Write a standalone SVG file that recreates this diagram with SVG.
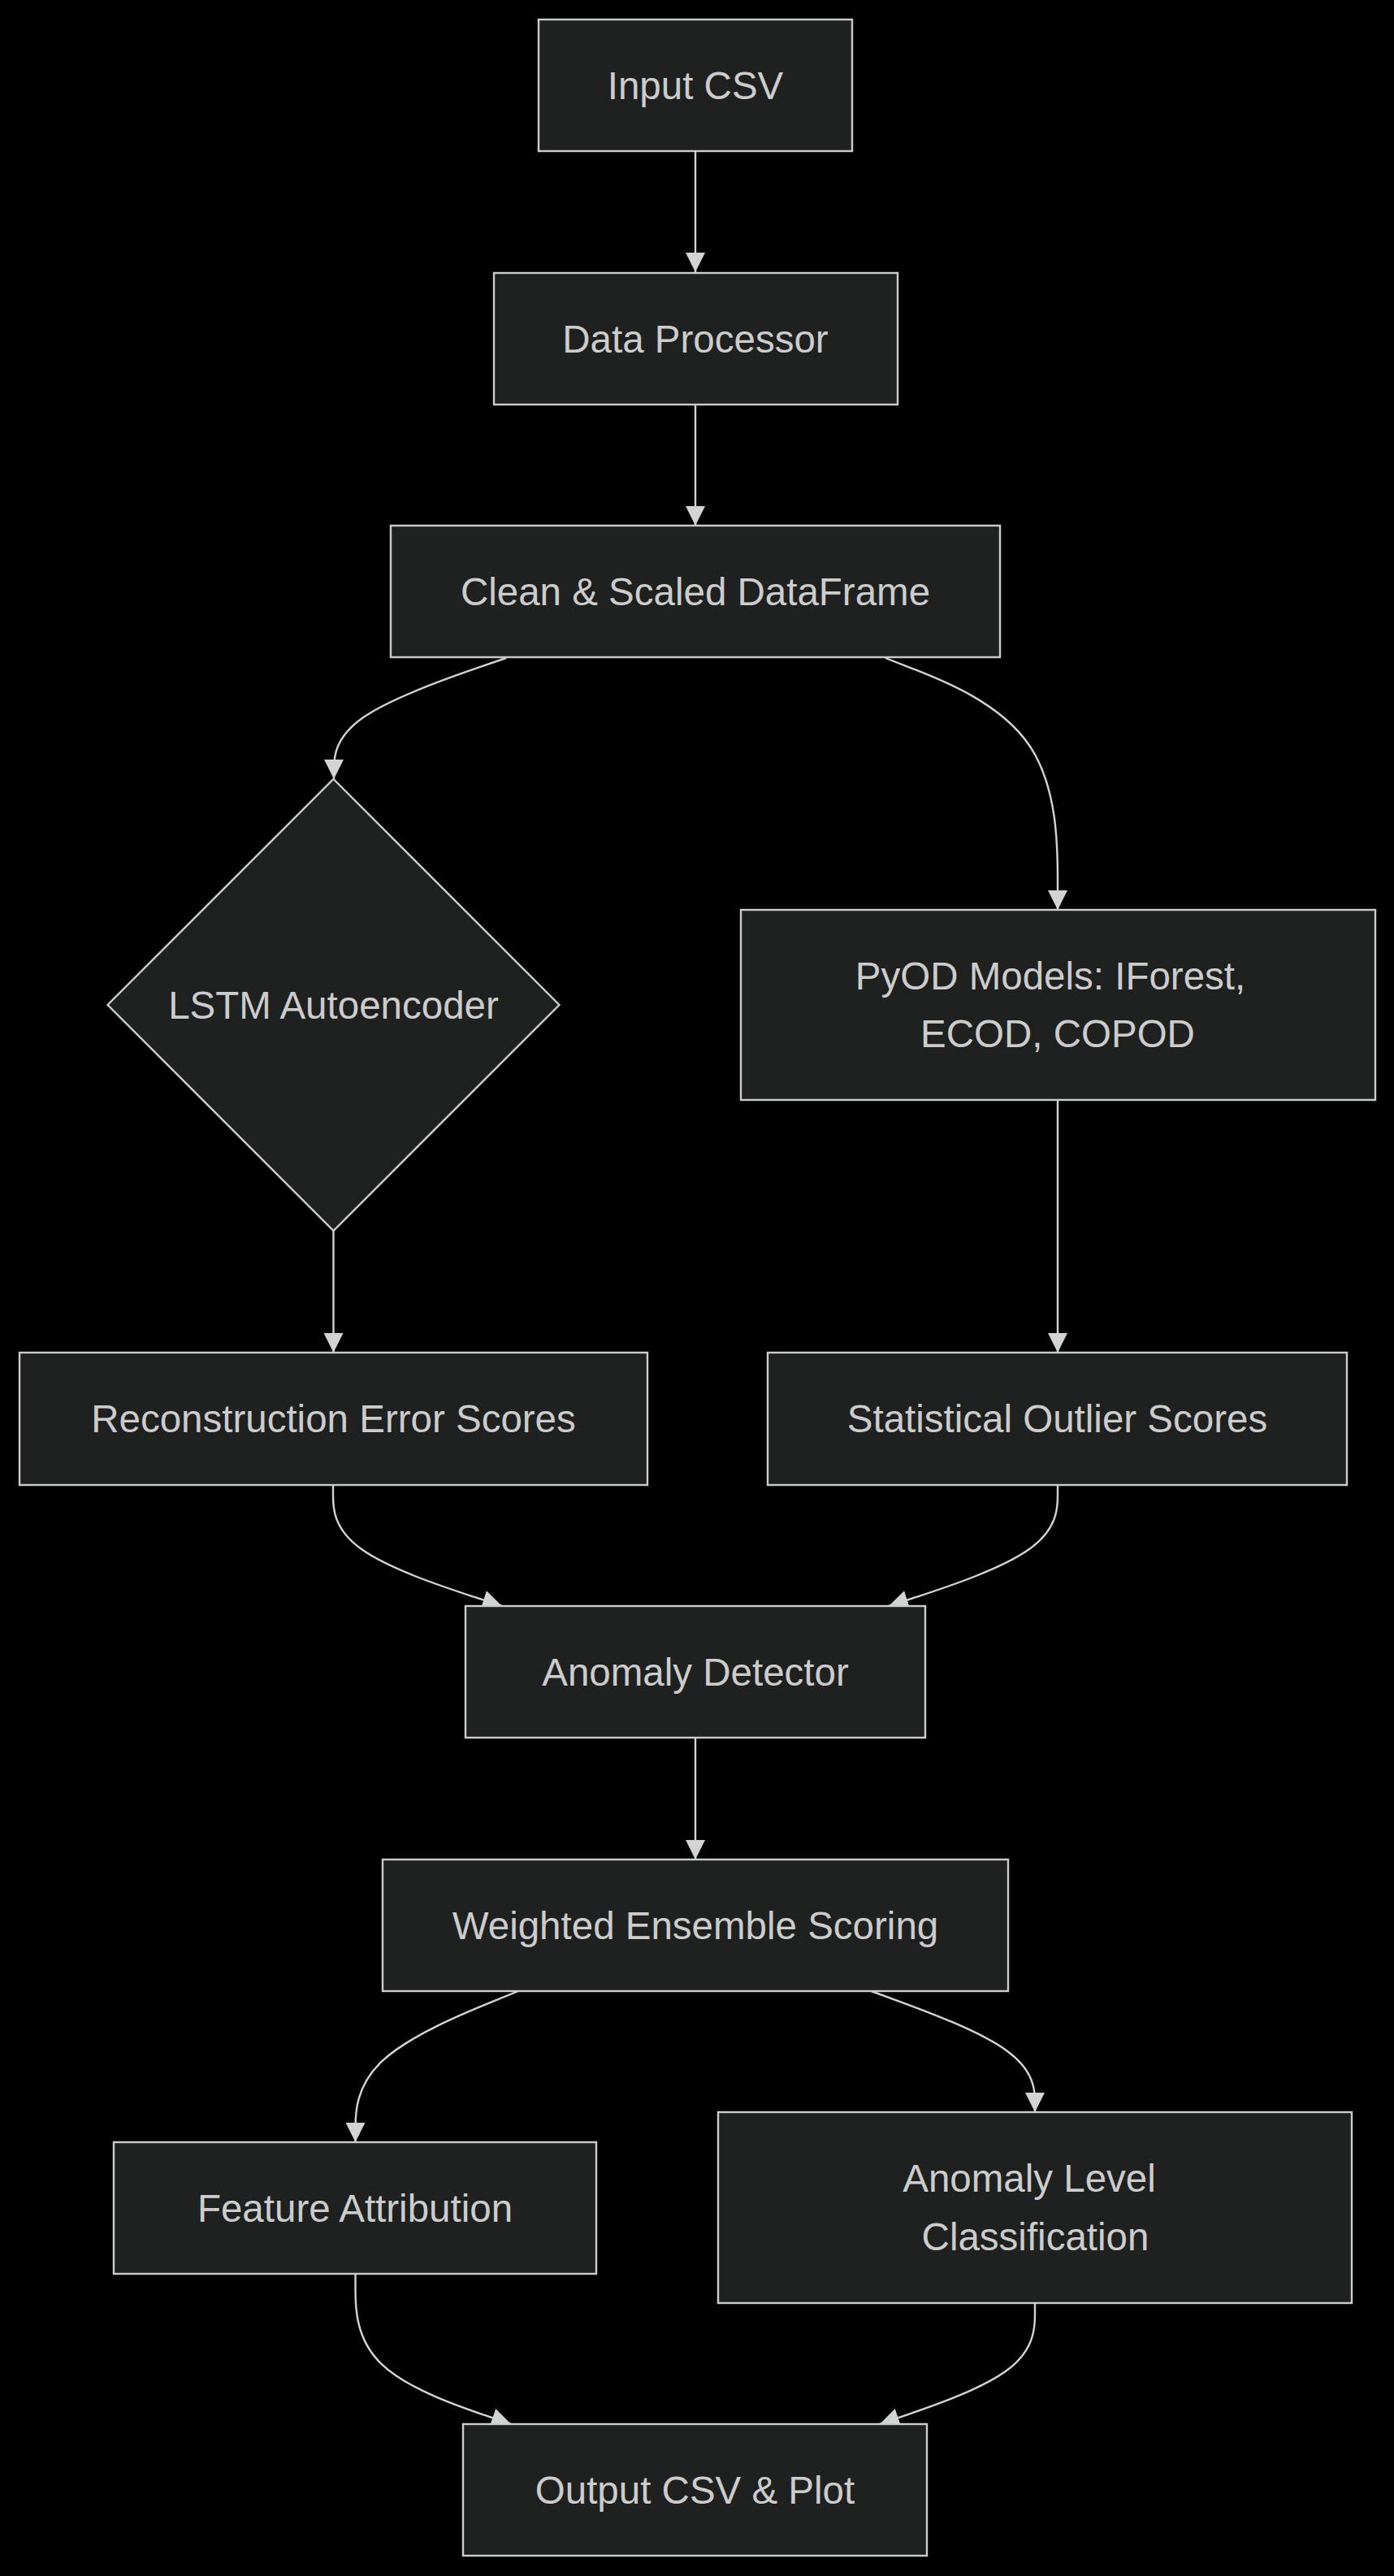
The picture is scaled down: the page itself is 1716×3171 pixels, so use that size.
<svg xmlns="http://www.w3.org/2000/svg" width="1716" height="3171" viewBox="0 0 1716 3171">
  <style>
    .node rect, .node polygon { fill: #1f2020; stroke: #cccccc; stroke-width: 2.4; }
    .node text { fill: #cccccc; font-family: "Liberation Sans", Arial, sans-serif; font-size: 47.5px; text-anchor: middle; }
    .edge { fill: none; stroke: #d3d3d3; stroke-width: 2.4; marker-end: url(#arrow); }
  </style>
  <defs>
    <marker id="arrow" viewBox="0 0 10 10" refX="10" refY="5" markerUnits="userSpaceOnUse" markerWidth="24" markerHeight="24" orient="auto">
      <path d="M0,0 L10,5 L0,10 z" fill="#d3d3d3"/>
    </marker>
  </defs>
  <rect x="0" y="0" width="1716" height="3171" fill="#000000"/>

  <g id="edges">
    <path class="edge" d="M856,186 L856,335"/>
    <path class="edge" d="M856,498 L856,647"/>
    <path class="edge" d="M623,810 L587.7,822.2 C552.3,834.3 481.7,858.7 446.3,883.7 C411,908.7 411,934.3 411,947.2 L411,959"/>
    <path class="edge" d="M1090,810 L1125.3,823.8 C1160.7,837.7 1231.3,865.3 1266.7,917 C1302,968.7 1302,1044.3 1302,1082.2 L1302,1120"/>
    <path class="edge" d="M410.5,1515 L410.5,1665"/>
    <path class="edge" d="M1302,1354 L1302,1665"/>
    <path class="edge" d="M410,1828 L410,1841.5 C410,1855 410,1882 444.7,1906.8 C479.3,1931.7 548.7,1954.3 583.3,1965.7 L618,1977"/>
    <path class="edge" d="M1302,1828 L1302,1841.5 C1302,1855 1302,1882 1267.3,1906.8 C1232.7,1931.7 1163.3,1954.3 1128.7,1965.7 L1094,1977"/>
    <path class="edge" d="M856,2139 L856,2289"/>
    <path class="edge" d="M638,2451 L604.6,2464.7 C571.2,2478.3 504.3,2505.7 470.9,2536.7 C437.5,2567.7 437.5,2602.3 437.5,2619.7 L437.5,2637"/>
    <path class="edge" d="M1072.5,2451 L1106.1,2463.3 C1139.7,2475.7 1206.8,2500.3 1240.4,2525.2 C1274,2550 1274,2575 1274,2587.5 L1274,2600"/>
    <path class="edge" d="M437.5,2799 L437.5,2819 C437.5,2839 437.5,2879 469.4,2909.8 C501.3,2940.7 565.2,2962.3 597.1,2973.2 L629,2984"/>
    <path class="edge" d="M1274,2835 L1274,2849 C1274,2863 1274,2891 1242.2,2915.8 C1210.3,2940.7 1146.7,2962.3 1114.8,2973.2 L1083,2984"/>
  </g>

  <g id="input-csv" class="node">
    <rect x="663" y="24" width="386" height="162"/>
    <text x="856" y="105" dy="0.35em">Input CSV</text>
  </g>
  <g id="data-processor" class="node">
    <rect x="608" y="336" width="497" height="162"/>
    <text x="856" y="417" dy="0.35em">Data Processor</text>
  </g>
  <g id="clean-df" class="node">
    <rect x="481" y="647" width="750" height="162"/>
    <text x="856" y="728" dy="0.35em">Clean &amp; Scaled DataFrame</text>
  </g>
  <g id="lstm" class="node">
    <polygon points="410.5,959 688.5,1237 410.5,1515 132.5,1237"/>
    <text x="410.5" y="1237" dy="0.35em">LSTM Autoencoder</text>
  </g>
  <g id="pyod" class="node">
    <rect x="912" y="1120" width="781" height="234"/>
    <text x="1293" y="1201" dy="0.35em">PyOD Models: IForest,</text>
    <text x="1302" y="1272" dy="0.35em">ECOD, COPOD</text>
  </g>
  <g id="recon" class="node">
    <rect x="24" y="1665" width="773" height="163"/>
    <text x="410.5" y="1746" dy="0.35em">Reconstruction Error Scores</text>
  </g>
  <g id="stat" class="node">
    <rect x="945" y="1665" width="713" height="163"/>
    <text x="1301.5" y="1746" dy="0.35em">Statistical Outlier Scores</text>
  </g>
  <g id="detector" class="node">
    <rect x="573" y="1977" width="566" height="162"/>
    <text x="856" y="2058" dy="0.35em">Anomaly Detector</text>
  </g>
  <g id="ensemble" class="node">
    <rect x="471" y="2289" width="770" height="162"/>
    <text x="856" y="2370" dy="0.35em">Weighted Ensemble Scoring</text>
  </g>
  <g id="attribution" class="node">
    <rect x="140" y="2637" width="594" height="162"/>
    <text x="437" y="2718" dy="0.35em">Feature Attribution</text>
  </g>
  <g id="level" class="node">
    <rect x="884" y="2600" width="780" height="235"/>
    <text x="1267" y="2681" dy="0.35em">Anomaly Level</text>
    <text x="1274.5" y="2753" dy="0.35em">Classification</text>
  </g>
  <g id="output" class="node">
    <rect x="570" y="2984" width="571" height="162"/>
    <text x="855.5" y="3065" dy="0.35em">Output CSV &amp; Plot</text>
  </g>
</svg>
